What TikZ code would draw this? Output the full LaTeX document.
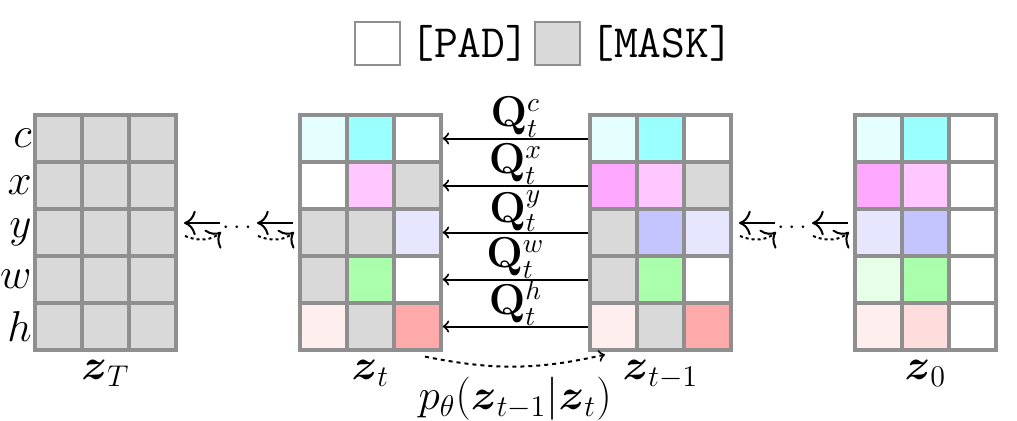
\documentclass[tikz,border=0pt]{standalone}
\usepackage{amsmath}
\usetikzlibrary{positioning,arrows.meta}

\definecolor{cellline}{HTML}{8F8F8F}
\definecolor{maskgray}{HTML}{D9D9D9}
\definecolor{cyanL}{HTML}{E5FEFF}
\definecolor{cyanD}{HTML}{99FFFF}
\definecolor{magD}{HTML}{FFA8FF}
\definecolor{pinkL}{HTML}{FFC6FF}
\definecolor{blueL}{HTML}{E6E6FF}
\definecolor{blueD}{HTML}{C4C4FF}
\definecolor{greenL}{HTML}{E6FFE6}
\definecolor{greenD}{HTML}{AAFFAA}
\definecolor{redL}{HTML}{FFEEEE}
\definecolor{redM}{HTML}{FFDDDD}
\definecolor{redD}{HTML}{FFAAAA}

\tikzset{
  cell/.style={draw=cellline, line width=1.3pt, minimum size=18.8pt, inner sep=0pt},
  legbox/.style={draw=cellline, line width=1.1pt, minimum width=18pt, minimum height=17.2pt, inner sep=0pt},
  qarrow/.style={->, line width=0.8pt},
}

\begin{document}
\begin{tikzpicture}[x=0.4pt, y=-0.4pt, font=\LARGE, >=to]
\useasboundingbox (0,0) rectangle (1017,420);

% legend
\node[legbox, fill=white] (padbox) at (377.5,43.5) {};
\node[right=0pt of padbox, font=\fontsize{18.5}{20}\selectfont] (padtxt) {\texttt{[PAD]}};
\node[legbox, fill=maskgray] (maskbox) at (557.5,43.5) {};
\node[right=0pt of maskbox, font=\fontsize{18.5}{20}\selectfont] (masktxt) {\texttt{[MASK]}};

% z_T
\foreach \r in {1,...,5}
  \foreach \c in {1,2,3}
    \node[cell, fill=maskgray] (zT-\r-\c) at (11.5+47*\c, 91.5+47*\r) {};

% z_t
\foreach \r/\ca/\cb/\cc in {1/cyanL/cyanD/white, 2/white/pinkL/maskgray,
    3/maskgray/maskgray/blueL, 4/maskgray/greenD/white, 5/redL/maskgray/redD} {
  \node[cell, fill=\ca] (zt-\r-1) at (323.5, 91.5+47*\r) {};
  \node[cell, fill=\cb] (zt-\r-2) at (370.5, 91.5+47*\r) {};
  \node[cell, fill=\cc] (zt-\r-3) at (417.5, 91.5+47*\r) {};
}

% z_{t-1}
\foreach \r/\ca/\cb/\cc in {1/cyanL/cyanD/white, 2/magD/pinkL/maskgray,
    3/maskgray/blueD/blueL, 4/maskgray/greenD/white, 5/redL/maskgray/redD} {
  \node[cell, fill=\ca] (zp-\r-1) at (613.5, 91.5+47*\r) {};
  \node[cell, fill=\cb] (zp-\r-2) at (660.5, 91.5+47*\r) {};
  \node[cell, fill=\cc] (zp-\r-3) at (707.5, 91.5+47*\r) {};
}

% z_0
\foreach \r/\ca/\cb/\cc in {1/cyanL/cyanD/white, 2/magD/pinkL/white,
    3/blueL/blueD/white, 4/greenL/greenD/white, 5/redL/redM/white} {
  \node[cell, fill=\ca] (z0-\r-1) at (878.5, 91.5+47*\r) {};
  \node[cell, fill=\cb] (z0-\r-2) at (925.5, 91.5+47*\r) {};
  \node[cell, fill=\cc] (z0-\r-3) at (972.5, 91.5+47*\r) {};
}

% rows
\foreach \r/\v in {1/c, 2/x, 3/y, 4/w, 5/h}
  \node[left, inner sep=0.5pt] (lab-\v) at (zT-\r-1.west) {$\v$};

% transitions
\foreach \r/\v in {1/c, 2/x, 3/y, 4/w, 5/h}
  \draw[qarrow] (zp-\r-1.west) -- node[above, inner sep=0pt, font=\fontsize{16}{18}\selectfont] {$\mathbf{Q}_t^{\v}$} (zt-\r-3.east);

% names
\node[below=0pt] (nzT) at (zT-5-2.south) {$\boldsymbol{z}_T$};
\node[below=0pt] (nzt) at (zt-5-2.south) {$\boldsymbol{z}_t$};
\node[below=0pt] (nzp) at (zp-5-2.south) {$\boldsymbol{z}_{t-1}$};
\node[below=0pt] (nz0) at (z0-5-2.south) {$\boldsymbol{z}_0$};

% reverse step
\draw[->, line width=0.8pt, dash pattern=on 1.6pt off 1.6pt]
  ([xshift=3pt, yshift=-2pt]zt-5-3.south) to[bend right=12]
  node[below=0.5pt] (ptheta) {$p_\theta(\boldsymbol{z}_{t-1}|\boldsymbol{z}_t)$}
  ([xshift=-3.4pt, yshift=-1.2pt]zp-5-1.south);

% chains
\foreach \x in {184, 257, 739, 812} {
  \draw[{To[scale=1.4]}-, line width=0.8pt] (\x,223) -- (\x+36,223);
  \draw[-{To[scale=1.4]}, line width=0.8pt, dash pattern=on 1.2pt off 1.2pt]
    (\x+1,236) .. controls (\x+15,242) and (\x+28,240) .. (\x+37,232);
}
\node[font=\normalsize] (dotsL) at (239,228) {$\cdots$};
\node[font=\normalsize] (dotsR) at (794,228) {$\cdots$};
\end{tikzpicture}
\end{document}
